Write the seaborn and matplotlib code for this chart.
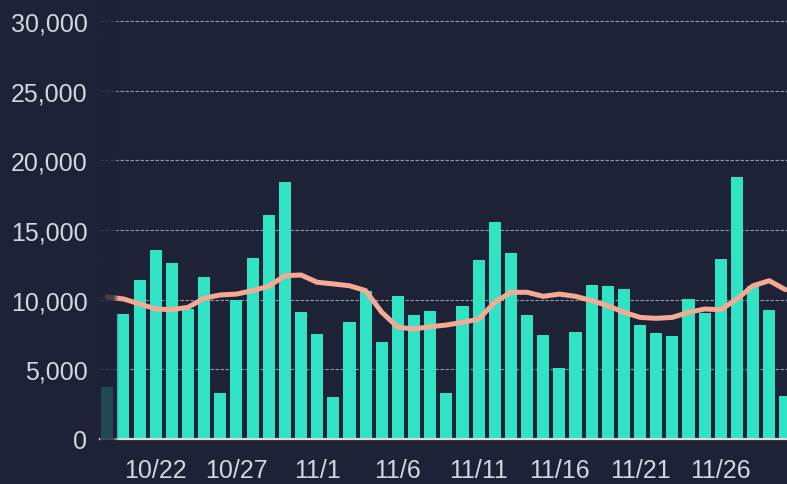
import numpy as np
import pandas as pd
import matplotlib
matplotlib.use("Agg")
import matplotlib.pyplot as plt
import matplotlib.colors as mcolors
import seaborn as sns

# dias 10/19 .. 11/30
dias = [d.strftime("%-m/%-d") for d in pd.date_range("2020-10-19", "2020-11-30")]

# valores diarios (barras)
casos = [3700, 8950, 11400, 13600, 12650, 9300, 11600, 3300, 9950, 13000, 16050, 18450,
         9150, 7540, 3050, 8420, 10600, 6950, 10280, 8900, 9210, 3300, 9520, 12850,
         15580, 13350, 8900, 7470, 5070, 7700, 11060, 11000, 10770, 8180, 7610, 7420,
         10050, 9050, 12900, 18780, 10950, 9280, 3060]

# media movel (linha)
media = [10200, 10050, 9700, 9330, 9280, 9450, 10100, 10340, 10400, 10650, 10960, 11720,
         11770, 11250, 11130, 11000, 10650, 9100, 8020, 7900, 8060, 8180, 8370, 8600,
         9810, 10530, 10530, 10240, 10400, 10240, 9930, 9570, 9090, 8730, 8660, 8730,
         9090, 9330, 9280, 10050, 11000, 11360, 10720]

rotulos_x = ["10/22", "10/27", "11/1", "11/6", "11/11", "11/16", "11/21", "11/26"]

fundo = "#1e2236"
cor_barra = "#30e3c5"
cor_linha = "#f6aa94"
cor_texto = "#d3d6de"

df = pd.DataFrame({"dia": dias, "casos": casos, "media": media})
df["pos"] = np.arange(len(df))

sns.set_style("dark")
plt.rcParams["font.family"] = ["Liberation Sans", "DejaVu Sans"]

fig = plt.figure(figsize=(7.87, 4.85), dpi=100, facecolor=fundo)
ax = fig.add_axes([100 / 787, 45 / 485, 1 - 100 / 787, 1 - 45 / 485])
ax.set_facecolor(fundo)

sns.barplot(data=df, x="dia", y="casos", color=cor_barra, saturation=1, width=0.75,
            edgecolor="none", linewidth=0, ax=ax, zorder=2)
sns.lineplot(data=df, x="pos", y="media", color=cor_linha, lw=3.6, ax=ax, zorder=3)

ax.set_yticks([0, 5000, 10000, 15000, 20000, 25000, 30000])
ax.set_yticklabels([f"{v:,}" for v in ax.get_yticks()])
ax.set_xticks([dias.index(r) for r in rotulos_x])
ax.set_xticklabels(rotulos_x)
ax.set_xlabel("")
ax.set_ylabel("")

ax.grid(axis="y", color="#b8bcc8", linestyle=(0, (3, 1.5)), lw=0.8, alpha=0.8, zorder=0)
ax.grid(axis="x", visible=False)
for lado in ["top", "right", "left"]:
    ax.spines[lado].set_visible(False)
ax.spines["bottom"].set_color("#d8dbe2")
ax.spines["bottom"].set_linewidth(1.6)
ax.tick_params(axis="both", length=0, colors=cor_texto, labelsize=18)
ax.tick_params(axis="y", pad=9)
ax.tick_params(axis="x", pad=14)

# degrade esmaecendo a borda esquerda
rgb = mcolors.to_rgb(fundo)
grad = np.zeros((2, 256, 4))
grad[..., :3] = rgb
t = np.linspace(0, 1, 256)
grad[..., 3] = np.where(t < 0.7, 0.8, 0.8 * (1 - (t - 0.7) / 0.3))
ax.imshow(grad, extent=(-0.45, 0.72, -600, 31580), aspect="auto", zorder=5,
          interpolation="bilinear", clip_on=False)

ax.set_xlim(-0.45, 42.1)
ax.set_ylim(0, 31580)

fig.savefig("out.png", dpi=100, facecolor=fundo)
